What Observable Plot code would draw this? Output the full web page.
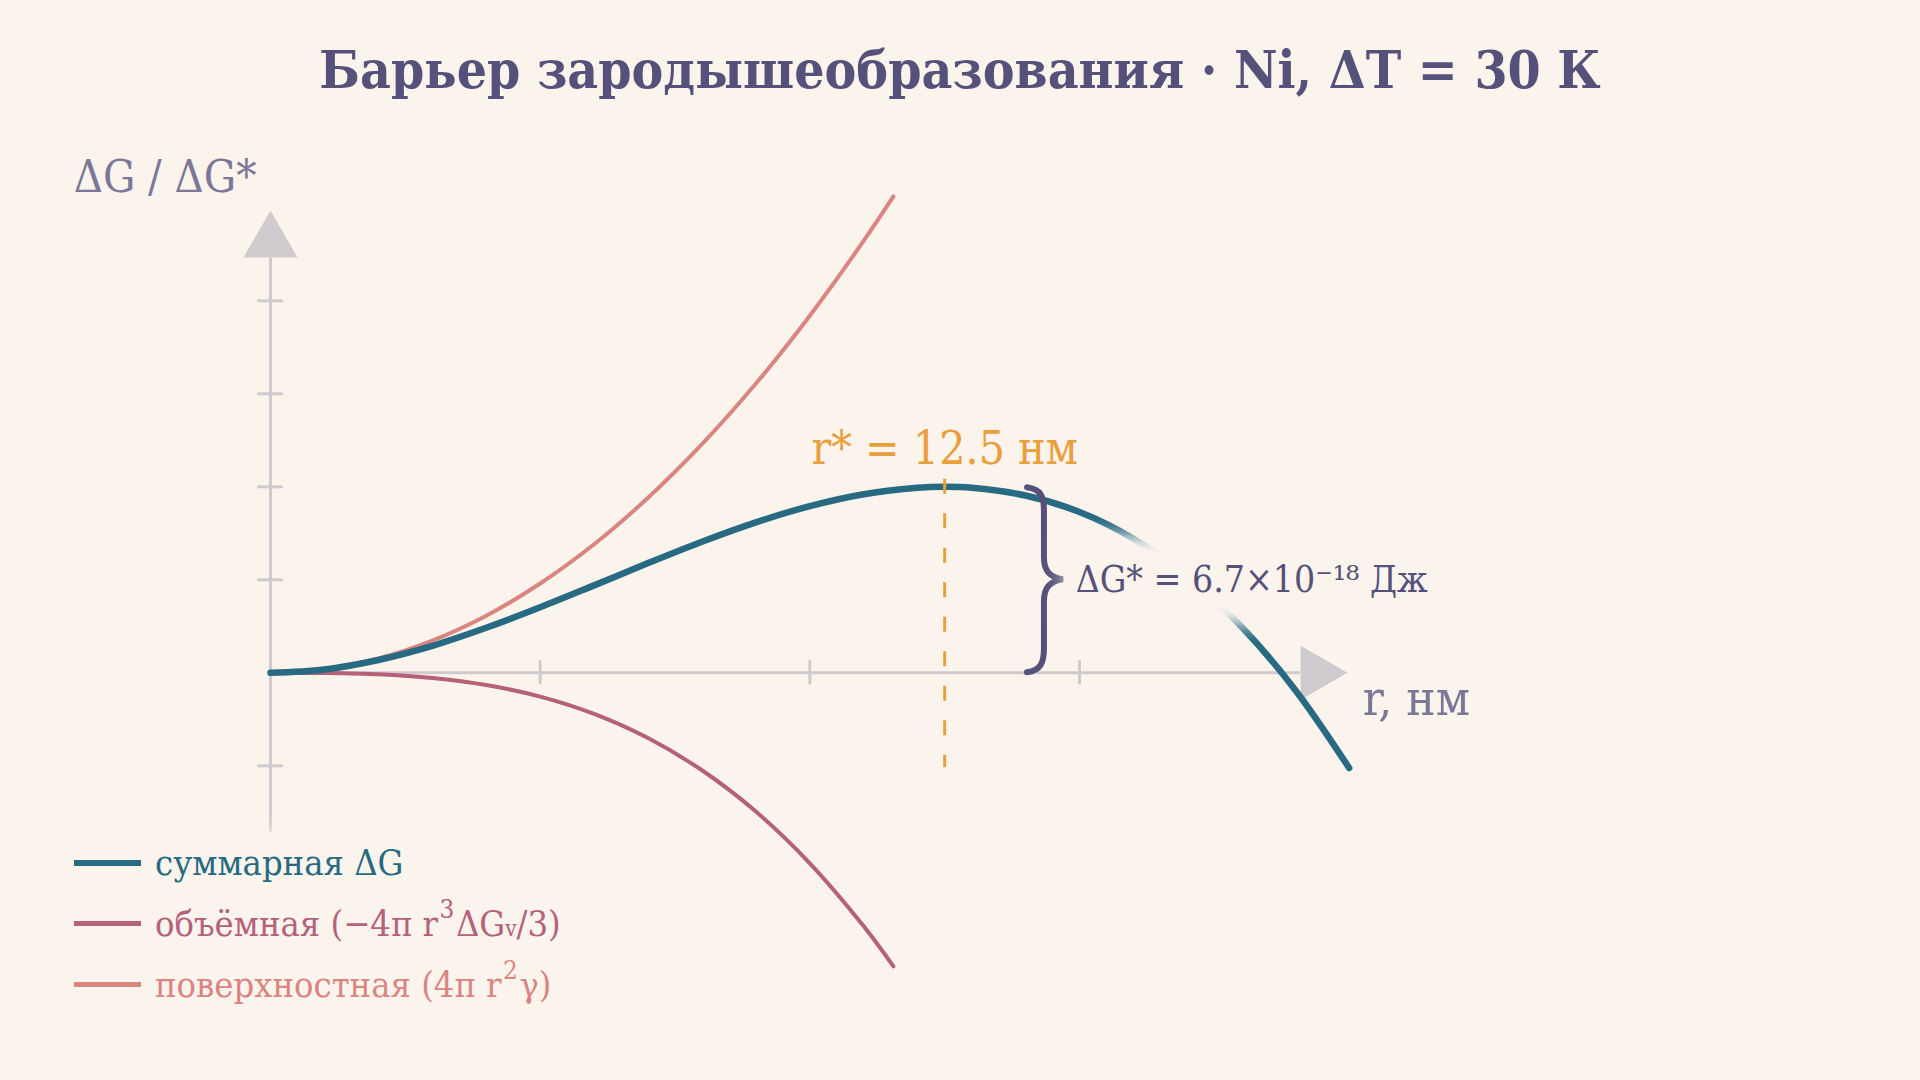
<!DOCTYPE html>
<html>
<head>
<meta charset="utf-8">
<script src="https://cdn.jsdelivr.net/npm/d3@7"></script>
<script src="https://cdn.jsdelivr.net/npm/@observablehq/plot@0.6"></script>
<style>
  html, body { margin: 0; padding: 0; background: #faf4ed; }
  body { width: 1920px; height: 1080px; position: relative; overflow: hidden;
         font-family: "DejaVu Serif Condensed", "DejaVu Serif", serif; font-stretch: condensed; }
  #title { height: 130px; box-sizing: border-box; padding-top: 8px; line-height: 122px; text-align: center;
           font-size: 53px; font-weight: bold; color: #56517a; }
  #legend { position: absolute; left: 74px; top: 832px; background: #faf4ed;
            box-shadow: 0 0 20px 0 #faf4ed; padding-right: 8px; }
  .row { height: 61px; display: flex; align-items: center; font-size: 36px; white-space: nowrap; }
  .sw { display: inline-block; width: 67px; margin-right: 14px; }
  .sup { font-size: 0.72em; position: relative; top: -0.55em; margin: 0 0.06em; }
  .sub { font-size: 0.62em; position: relative; top: 0.2em; }
</style>
</head>
<body>
<div id="title">Барьер зародышеобразования · Ni, ΔT = 30 К</div>
<div id="chart"></div>
<div id="legend">
  <div class="row" style="color:#276a82"><span class="sw" style="height:6px;background:#276a82"></span>суммарная ΔG</div>
  <div class="row" style="color:#b5617a"><span class="sw" style="height:5px;background:#b5617a"></span>объёмная (−4π r<span class="sup">3</span>ΔG<span class="sub">v</span>/3)</div>
  <div class="row" style="color:#da857f"><span class="sw" style="height:5px;background:#da857f"></span>поверхностная (4π r<span class="sup">2</span>γ)</div>
</div>
<script>
// ---- data (r in нм, ΔG in units of ΔG*) ----
const rTotal = [0, 1, 2, 3, 4, 5, 6, 7, 8, 9, 10, 11, 12, 12.5, 13, 14, 15, 16, 17, 18, 19, 20];
const gTotal = [0, 0.018, 0.069, 0.145, 0.242, 0.352, 0.470, 0.590, 0.705, 0.809, 0.896, 0.960, 0.995, 1.0, 0.995, 0.953, 0.864, 0.721, 0.518, 0.249, -0.092, -0.512];
const rParts = [0, 1, 2, 3, 4, 5, 6, 7, 8, 9, 10, 11, 11.55];
const gSurface = [0, 0.019, 0.077, 0.173, 0.307, 0.480, 0.691, 0.941, 1.229, 1.555, 1.920, 2.323, 2.561];
const gVolume = [0, -0.001, -0.008, -0.028, -0.066, -0.128, -0.221, -0.351, -0.524, -0.746, -1.024, -1.363, -1.578];
const xTicks = [5, 10, 15];
const yTicks = [-0.5, 0.5, 1, 1.5, 2];
const rStar = 12.5;
const rStarLabel = "r* = 12.5 нм";
const dGLabel = "ΔG* = 6.7×10⁻¹⁸ Дж";
const xLabel = "r, нм";
const yLabel = "ΔG / ΔG*";

const total = rTotal.map((r, i) => ({r, g: gTotal[i]}));
const surface = rParts.map((r, i) => ({r, g: gSurface[i]}));
const volume = rParts.map((r, i) => ({r, g: gVolume[i]}));

const BG = "#faf4ed", AX = "#cfcacd", INK = "#56517a", LAB = "#7c7797";
const FONT = "DejaVu Serif Condensed, DejaVu Serif, serif";

function brace(index, scales) {
  const {x, y} = scales;
  const sx = x(14.35), top = y(1), bot = y(0), mid = (top + bot) / 2;
  const h = 17, p = 19;
  const d = `M${sx - h},${top + 1} C${sx - 3},${top + 3} ${sx},${top + 10} ${sx},${top + 24}
    L${sx},${mid - 22} C${sx},${mid - 8} ${sx + 6},${mid - 2} ${sx + p},${mid}
    C${sx + 6},${mid + 2} ${sx},${mid + 8} ${sx},${mid + 22}
    L${sx},${bot - 24} C${sx},${bot - 10} ${sx - 3},${bot - 2} ${sx - h},${bot}`;
  return d3.create("svg:path").attr("d", d).attr("fill", "none")
    .attr("stroke", INK).attr("stroke-width", 6).attr("stroke-linecap", "round").node();
}

function fadeBox(x1, x2, y1, y2) {
  return (index, scales) => {
    const {x, y} = scales;
    const g = d3.create("svg:g");
    g.append("defs").append("filter").attr("id", "fadeblur")
      .attr("x", "-30%").attr("y", "-60%").attr("width", "160%").attr("height", "220%")
      .append("feGaussianBlur").attr("stdDeviation", 9);
    g.append("rect").attr("x", x(x1)).attr("y", y(y2))
      .attr("width", x(x2) - x(x1)).attr("height", y(y1) - y(y2))
      .attr("fill", BG).attr("filter", "url(#fadeblur)");
    return g.node();
  };
}

const chart = Plot.plot({
  width: 1920,
  height: 950,
  style: {background: "transparent", overflow: "visible", fontFamily: FONT},
  x: {domain: [0, 15], range: [270, 1079], axis: null},
  y: {domain: [0, 1], range: [542.3, 356.3], axis: null},
  marks: [
    // axes
    Plot.ruleY([0], {x1: 0, x2: 19.1, stroke: AX, strokeWidth: 3}),
    Plot.ruleX([0], {y1: -0.9, y2: 2.23, stroke: AX, strokeWidth: 3}),
    Plot.ruleX(xTicks, {y1: -0.065, y2: 0.065, stroke: AX, strokeWidth: 3}),
    Plot.ruleY(yTicks, {x1: -0.24, x2: 0.24, stroke: AX, strokeWidth: 3}),
    Plot.dot([0], {x: 0, y: 2.317, symbol: "triangle", r: 20.07, fill: AX, stroke: "none"}),
    Plot.dot([0], {x: 19.39, y: 0, symbol: "triangle", r: 20.07, rotate: 90, fill: AX, stroke: "none"}),
    // curves
    Plot.line(surface, {x: "r", y: "g", stroke: "#da857f", strokeWidth: 4, curve: "catmull-rom"}),
    Plot.line(volume, {x: "r", y: "g", stroke: "#b5617a", strokeWidth: 4, curve: "catmull-rom"}),
    Plot.line(total, {x: "r", y: "g", stroke: "#276a82", strokeWidth: 6.5, curve: "catmull-rom"}),
    // critical radius
    Plot.ruleX([rStar], {y1: 1.04, y2: -0.51, stroke: "#e9a03c", strokeWidth: 3, strokeDasharray: "15,19.5"}),
    brace,
    fadeBox(14.75, 21.9, 0.254, 0.738),
    // labels
    Plot.text([rStarLabel], {x: rStar, y: 1.2, text: d => d, fill: "#e9a03c", fontSize: 46, fontFamily: FONT, textAnchor: "middle"}),
    Plot.text([dGLabel], {x: 14.93, y: 0.5, text: d => d, fill: INK, fontSize: 37, fontFamily: FONT, textAnchor: "start"}),
    Plot.text([xLabel], {x: 20.25, y: -0.144, text: d => d, fill: LAB, fontSize: 49, fontFamily: FONT, textAnchor: "start"}),
    Plot.text([yLabel], {x: -3.65, y: 2.66, text: d => d, fill: LAB, fontSize: 45, fontFamily: FONT, textAnchor: "start"})
  ]
});
document.getElementById("chart").append(chart);
</script>
</body>
</html>
